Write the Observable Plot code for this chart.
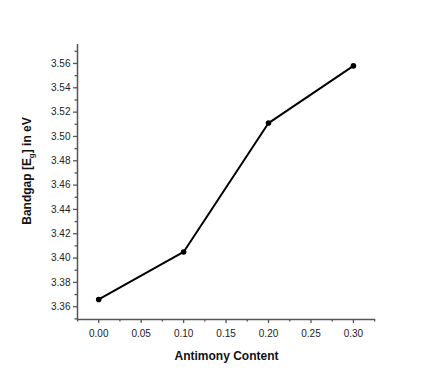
<!DOCTYPE html>
<html><head><meta charset="utf-8">
<script src="https://cdn.jsdelivr.net/npm/d3@7"></script>
<script src="https://cdn.jsdelivr.net/npm/@observablehq/plot@0.6"></script>
<style>
body{margin:0;background:#fff;}
svg{font-family:"Liberation Sans",Arial,sans-serif;}
</style></head>
<body><div id="chart"></div>
<script>
const antimony = [0.00, 0.10, 0.20, 0.30];
const bandgap = [3.366, 3.405, 3.511, 3.558];
const yTicks = [3.36,3.38,3.40,3.42,3.44,3.46,3.48,3.50,3.52,3.54,3.56];
const yMinor = [3.35,3.37,3.39,3.41,3.43,3.45,3.47,3.49,3.51,3.53,3.55,3.57];
const xTicks = [0.00,0.05,0.10,0.15,0.20,0.25,0.30];
const xMinor = [-0.025,0.025,0.075,0.125,0.175,0.225,0.275,0.325];
const xTitle = "Antimony Content";
const yTitleParts = ["Bandgap [E", "g", "] in eV"];

const data = antimony.map((x,i)=>({x, y: bandgap[i]}));
const xDom = [-0.025, 0.326], yDom = [3.3495, 3.5756];
const axisColor = "#555";

const chart = Plot.plot({
  width: 436, height: 382,
  marginLeft: 77, marginRight: 61, marginTop: 44, marginBottom: 63,
  style: {fontFamily: '"Liberation Sans",Arial,sans-serif', fontSize: "10px", background: "#fff"},
  x: {domain: xDom, label: null},
  y: {domain: yDom, label: null},
  marks: [
    Plot.axisY(yTicks, {tickSize: 4, tickPadding: 3, tickFormat: ".2f", stroke: axisColor, strokeWidth: 1.3, fill: "#222", fontSize: 10}),
    Plot.axisY(yMinor.filter(v=>v>=yDom[0]&&v<=yDom[1]), {tickSize: 2.5, tickFormat: () => "", stroke: axisColor, strokeWidth: 1.3}),
    Plot.axisX(xTicks, {tickSize: 4, tickPadding: 6, tickFormat: ".2f", stroke: axisColor, strokeWidth: 1.3, fill: "#222", fontSize: 10}),
    Plot.axisX(xMinor.filter(v=>v>=xDom[0]&&v<=xDom[1]), {tickSize: 2.5, tickFormat: () => "", stroke: axisColor, strokeWidth: 1.3}),
    Plot.ruleX([xDom[0]], {stroke: axisColor, strokeWidth: 1.5}),
    Plot.ruleY([yDom[0]], {stroke: axisColor, strokeWidth: 1.5}),
    Plot.line(data, {x: "x", y: "y", stroke: "#000", strokeWidth: 2}),
    Plot.dot(data, {x: "x", y: "y", r: 2.8, fill: "#000", stroke: "none"})
  ]
});
document.getElementById("chart").appendChild(chart);

const svg = d3.select(chart);
svg.append("text")
  .attr("x", 226.5).attr("y", 360)
  .attr("text-anchor", "middle")
  .attr("font-size", 12).attr("font-weight", "bold").attr("fill", "#111")
  .text(xTitle);
const yt = svg.append("text")
  .attr("transform", "translate(31,171) rotate(-90)")
  .attr("text-anchor", "middle")
  .attr("font-size", 12).attr("font-weight", "bold").attr("fill", "#111");
yt.append("tspan").text(yTitleParts[0]);
yt.append("tspan").attr("font-size", 8).attr("dy", 3).text(yTitleParts[1]);
yt.append("tspan").attr("dy", -3).text(yTitleParts[2]);
</script></body></html>
